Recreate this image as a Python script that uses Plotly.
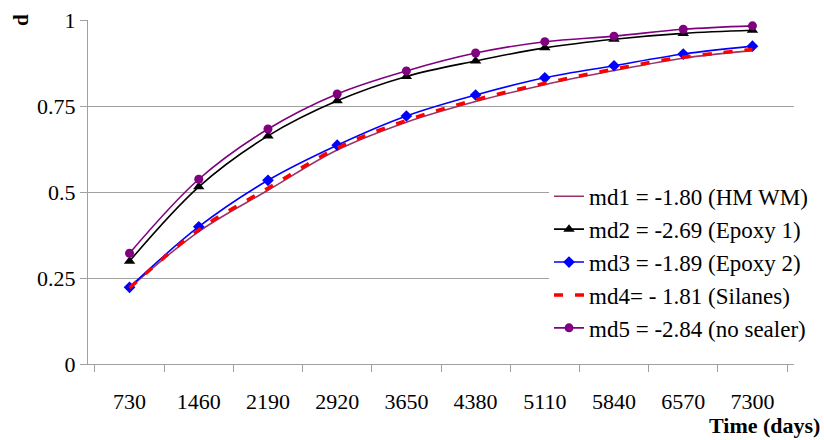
import plotly.graph_objects as go

days = ["730", "1460", "2190", "2920", "3650", "4380", "5110", "5840", "6570", "7300"]
md1 = [0.221, 0.385, 0.505, 0.622, 0.703, 0.763, 0.812, 0.853, 0.889, 0.911]
md2 = [0.299, 0.515, 0.663, 0.765, 0.836, 0.881, 0.919, 0.944, 0.961, 0.970]
md3 = [0.223, 0.399, 0.534, 0.636, 0.721, 0.782, 0.832, 0.867, 0.901, 0.924]
md4 = [0.221, 0.390, 0.511, 0.628, 0.708, 0.768, 0.816, 0.857, 0.892, 0.914]
md5 = [0.322, 0.537, 0.683, 0.785, 0.852, 0.904, 0.937, 0.953, 0.973, 0.983]

names = ["md1 = -1.80 (HM WM)", "md2 = -2.69 (Epoxy 1)", "md3 = -1.89 (Epoxy 2)",
         "md4= - 1.81 (Silanes)", "md5 = -2.84 (no sealer)"]
y_ticks = [0, 0.25, 0.5, 0.75, 1]
y_ticktext = ["0", "0.25", "0.5", "0.75", "1"]

FONT = "Times New Roman, Liberation Serif, DejaVu Serif, serif"

fig = go.Figure()
fig.add_trace(go.Scatter(x=days, y=md1, name=names[0], mode="lines",
                         line=dict(color="#993366", width=1.6, shape="spline")))
fig.add_trace(go.Scatter(x=days, y=md2, name=names[1], mode="lines+markers",
                         line=dict(color="#000000", width=1.6, shape="spline"),
                         marker=dict(symbol="triangle-up", size=10, color="#000000")))
fig.add_trace(go.Scatter(x=days, y=md3, name=names[2], mode="lines+markers",
                         line=dict(color="#0000FF", width=1.6, shape="spline"),
                         marker=dict(symbol="diamond", size=9, color="#0000FF")))
fig.add_trace(go.Scatter(x=days, y=md4, name=names[3], mode="lines",
                         line=dict(color="#FF0000", width=3.5, dash="9px,12px", shape="spline")))
fig.add_trace(go.Scatter(x=days, y=md5, name=names[4], mode="lines+markers",
                         line=dict(color="#800080", width=1.6, shape="spline"),
                         marker=dict(symbol="circle", size=9, color="#800080")))

fig.update_layout(
    template="none",
    width=824, height=440,
    margin=dict(l=88, r=30, t=20, b=76, autoexpand=False),
    paper_bgcolor="white", plot_bgcolor="white",
    font=dict(family=FONT, size=22, color="black"),
    showlegend=True,
    legend=dict(x=0.653, y=0.55, xanchor="left", yanchor="top",
                bgcolor="white", borderwidth=0,
                font=dict(family=FONT, size=23, color="black"),
                tracegroupgap=0),
    xaxis=dict(type="category", tickson="boundaries", ticks="outside", ticklen=7,
               tickcolor="#A0A0A0", showgrid=False, showline=True, linecolor="#A0A0A0",
               linewidth=1, ticklabelstandoff=18, zeroline=False, automargin=False,
               tickfont=dict(family=FONT, size=22, color="black")),
    yaxis=dict(range=[0, 1], tickvals=y_ticks, ticktext=y_ticktext, ticks="outside",
               ticklen=7, tickcolor="#A0A0A0", showgrid=True, gridcolor="#A0A0A0",
               gridwidth=1, showline=True, linecolor="#A0A0A0", linewidth=1,
               zeroline=False, automargin=False,
               tickfont=dict(family=FONT, size=22, color="black")),
    annotations=[
        dict(text="<b>d</b>", xref="paper", yref="paper", x=-0.095, y=1.0,
             xanchor="center", yanchor="middle", textangle=-90, showarrow=False,
             font=dict(family=FONT, size=21, color="black")),
        dict(text="<b>Time (days)</b>", xref="paper", yref="paper", x=1.039, y=-0.18,
             xanchor="right", yanchor="middle", showarrow=False,
             font=dict(family=FONT, size=22, color="black")),
    ],
)

fig.write_html("out.html", config={"displayModeBar": False},
               post_script="document.body.style.margin='0';")
